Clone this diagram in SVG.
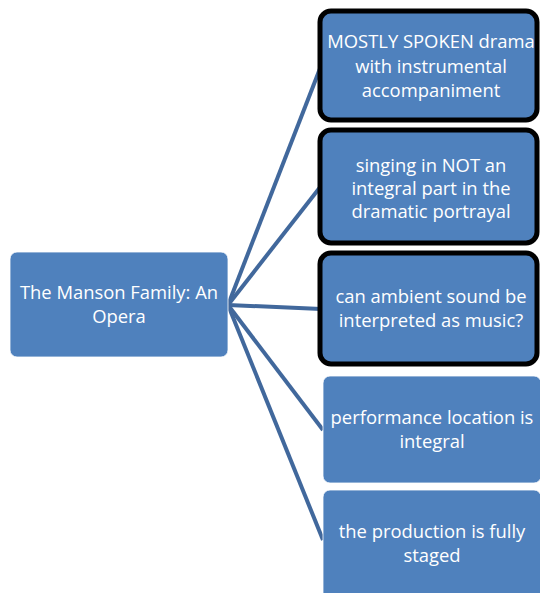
<svg xmlns="http://www.w3.org/2000/svg" width="540" height="593" viewBox="0 0 540 593">
<style>
.box{fill:#4f81bd;}
.hl{stroke:#000;stroke-width:5;}
.plain{stroke:#ffffff;stroke-width:0.8;}
.conn{stroke:#41689c;stroke-width:4;fill:none;stroke-linecap:butt;}
text{font-family:"Open Sans","Liberation Sans",sans-serif;font-size:18.4px;fill:#ffffff;text-anchor:middle;}
</style>
<rect width="540" height="593" fill="#ffffff"/>
<g id="connectors">
<line class="conn" x1="228" y1="305" x2="321" y2="66"/>
<line class="conn" x1="228" y1="305" x2="321" y2="186"/>
<line class="conn" x1="228" y1="305" x2="321" y2="309"/>
<line class="conn" x1="228" y1="305" x2="323" y2="430"/>
<line class="conn" x1="228" y1="305" x2="323" y2="540"/>
</g>
<g id="root">
<rect class="box plain" x="10" y="252" width="218" height="105" rx="7"/>
<text x="119" y="299">The Manson Family: An</text>
<text x="119" y="323">Opera</text>
</g>
<g id="n1">
<rect class="box hl" x="320" y="11" width="217" height="109" rx="11"/>
<text x="431" y="48">MOSTLY SPOKEN drama</text>
<text x="431" y="73">with instrumental</text>
<text x="431" y="97">accompaniment</text>
</g>
<g id="n2">
<rect class="box hl" x="320" y="130" width="217" height="113" rx="11"/>
<text x="431" y="172">singing in NOT an</text>
<text x="431" y="195">integral part in the</text>
<text x="431" y="218">dramatic portrayal</text>
</g>
<g id="n3">
<rect class="box hl" x="320" y="253" width="217" height="111" rx="11"/>
<text x="431" y="303">can ambient sound be</text>
<text x="431" y="327">interpreted as music?</text>
</g>
<g id="n4">
<rect class="box plain" x="323" y="376" width="218" height="107" rx="7"/>
<text x="432" y="424">performance location is</text>
<text x="432" y="448">integral</text>
</g>
<g id="n5">
<rect class="box plain" x="323" y="490" width="218" height="110" rx="7"/>
<text x="432" y="538">the production is fully</text>
<text x="432" y="562">staged</text>
</g>
</svg>
